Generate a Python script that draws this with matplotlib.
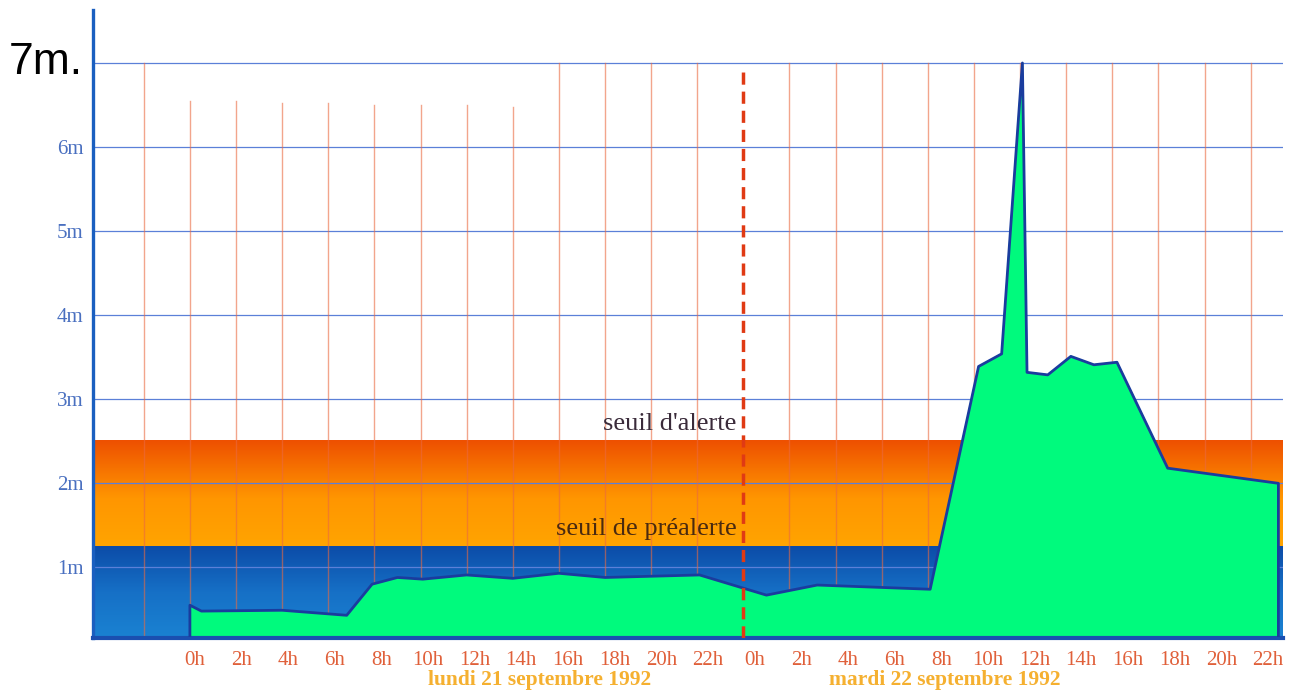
import numpy as np
from matplotlib import pyplot as plt
from matplotlib.colors import LinearSegmentedColormap

# hauteur d'eau (m) en fonction des heures depuis lundi 0h
heures = [0, 0.5, 4.0, 6.8, 7.9, 9.0, 10.1, 12.0, 14.0, 16.0, 18.0, 22.1,
          25.0, 27.2, 32.1, 34.2, 35.2, 36.1, 36.3, 37.2, 38.2, 39.2, 40.2,
          42.4, 47.2]
hauteurs = [0.55, 0.48, 0.49, 0.43, 0.80, 0.88, 0.86, 0.91, 0.87, 0.93, 0.88,
            0.91, 0.67, 0.79, 0.74, 3.39, 3.54, 7.0, 3.32, 3.29, 3.51, 3.41,
            3.44, 2.18, 2.0]

seuil_prealerte = 1.25
seuil_alerte = 2.5

lignes_h = list(range(-2, 48, 2))
hauts_lignes = [7.0, 6.55, 6.55, 6.52, 6.52, 6.5, 6.5, 6.5, 6.48,
                7.0, 7.0, 7.0, 7.0, None, 7.0, 7.0, 7.0, 7.0, 7.0, 7.0,
                7.0, 7.0, 7.0, 7.0, 7.0]

ticks_h = list(range(0, 48, 2))
ticks_lbl = ['%dh' % (h % 24) for h in ticks_h]
y_ticks = [1, 2, 3, 4, 5, 6]

x0, x1 = -4.2, 47.4
y0, y1 = 0.16, 7.63

fig = plt.figure(figsize=(12.94, 6.91), dpi=100)
ax = fig.add_axes([0.0719, 0.0767, 0.9915 - 0.0719, 0.9855 - 0.0767])

# bandes de seuil en dégradé
bleu = LinearSegmentedColormap.from_list('b', ['#1a82d2', '#1670c6', '#0c4ca8'])
orange = LinearSegmentedColormap.from_list('o', [(0, '#ffa400'), (0.45, '#ff9600'), (1, '#ee5000')])
grad = np.linspace(0, 1, 200)[:, None]
ax.imshow(grad, extent=[x0, x1, y0, seuil_prealerte], cmap=bleu, origin='lower',
          aspect='auto', zorder=0)
ax.imshow(grad, extent=[x0, x1, seuil_prealerte, seuil_alerte], cmap=orange,
          origin='lower', aspect='auto', zorder=0)

# quadrillage
for y in range(1, 8):
    ax.axhline(y, color='#5b80d8', lw=0.9, zorder=1)
for h, top in zip(lignes_h, hauts_lignes):
    if top is None:
        continue
    ax.plot([h, h], [y0, top], color='#ea6a40', lw=1.0, alpha=0.6, zorder=1)
ax.plot([24, 24], [y0, 6.95], color='#e03a14', lw=2.5, ls=(0, (3.5, 2)), zorder=4)

# hauteur d'eau
xs = [heures[0]] + heures + [heures[-1]]
ys = [y0 + 0.03] + hauteurs + [y0 + 0.03]
ax.fill(xs, ys, color='#00fa7d', zorder=2)
ax.plot(xs, ys, color='#1a3c9e', lw=2, zorder=3)

ax.text(23.7, seuil_alerte + 0.08, "seuil d'alerte", ha='right', va='bottom',
        fontsize=19, family='Liberation Serif', color='#3a2b3a')
ax.text(23.7, seuil_prealerte + 0.08, "seuil de préalerte", ha='right', va='bottom',
        fontsize=19, family='Liberation Serif', color='#4a2a10')

ax.set_xlim(x0, x1)
ax.set_ylim(y0, y1)
ax.set_xticks([h + 0.2 + 0.012 * h for h in ticks_h])
ax.set_xticklabels(ticks_lbl, family='Liberation Serif', fontsize=15, color='#e0603a')
ax.set_yticks(y_ticks)
ax.set_yticklabels(['%dm' % y for y in y_ticks], family='Liberation Serif',
                   fontsize=15, color='#4a70c0')
ax.tick_params(length=0)
ax.tick_params(axis='x', pad=9)
ax.tick_params(axis='y', pad=7)
for s in ['top', 'right']:
    ax.spines[s].set_visible(False)
ax.spines['left'].set_color('#1a5fc0')
ax.spines['left'].set_linewidth(2.4)
ax.spines['bottom'].set_color('#1a4fb0')
ax.spines['bottom'].set_linewidth(3)

fig.text(0.007, 0.91, '7m.', fontsize=32, family='Liberation Sans', color='black',
         va='center')
fig.text(0.417, 0.009, 'lundi 21 septembre 1992', ha='center', family='Liberation Serif',
         fontsize=15.5, fontweight='bold', color='#f5b030')
fig.text(0.73, 0.009, 'mardi 22 septembre 1992', ha='center', family='Liberation Serif',
         fontsize=15.5, fontweight='bold', color='#f5b030')

fig.savefig('out.png', dpi=100)
